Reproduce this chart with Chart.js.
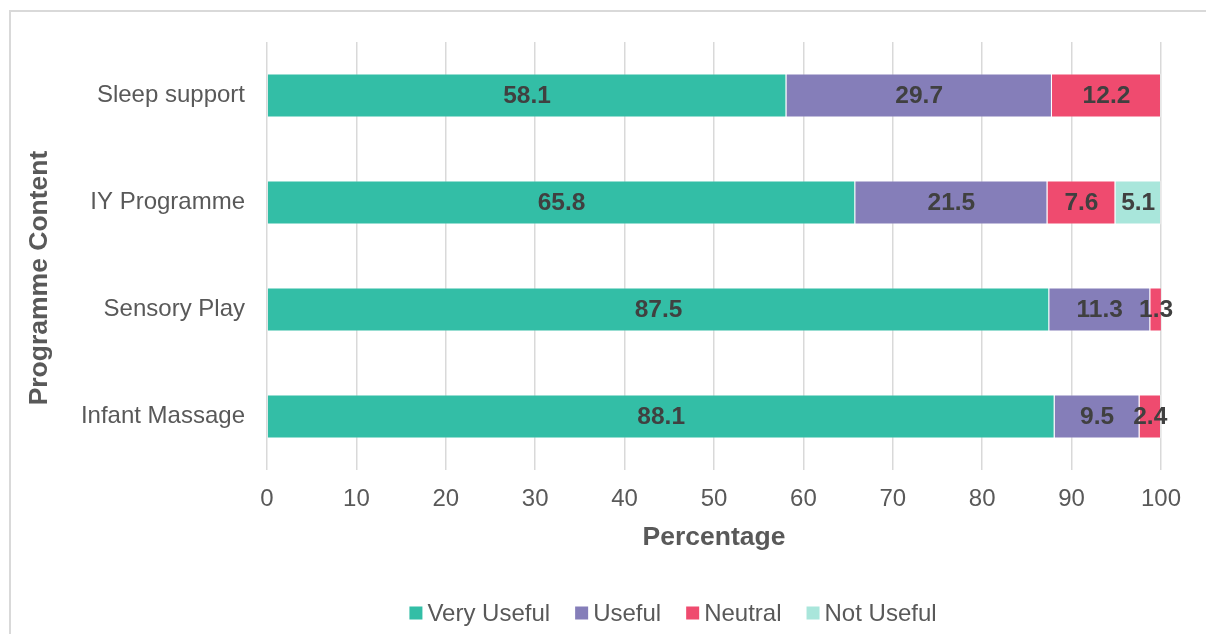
<!DOCTYPE html>
<html>
<head>
<meta charset="utf-8">
<script src="https://cdn.jsdelivr.net/npm/chart.js@4/dist/chart.umd.min.js"></script>
<style>
  html, body { margin: 0; padding: 0; background: #fff; overflow: hidden; font-family: "Liberation Sans", Arial, sans-serif; }
  #frame { position: absolute; left: 9px; top: 10px; width: 1300px; height: 700px; border: 2px solid #d9d9d9; box-sizing: border-box; }
  #wrap { position: absolute; left: 0; top: 0; width: 1206px; height: 634px; }
</style>
</head>
<body>
<div id="frame"></div>
<div id="wrap"><canvas id="c" width="1206" height="634"></canvas></div>
<script>
const categories = ["Sleep support", "IY Programme", "Sensory Play", "Infant Massage"];
const seriesNames = ["Very Useful", "Useful", "Neutral", "Not Useful"];
const veryUseful = [58.1, 65.8, 87.5, 88.1];
const useful = [29.7, 21.5, 11.3, 9.5];
const neutral = [12.2, 7.6, 1.3, 2.4];
const notUseful = [0, 5.1, 0, 0];
const xTicks = [0, 10, 20, 30, 40, 50, 60, 70, 80, 90, 100];
const colors = ["#33BEA6", "#857EB9", "#EF4B6F", "#A9E6DB"];
const yTitle = "Programme Content";
const xTitle = "Percentage";

const FONT = "Liberation Sans";
const FONT_CSS = "\"Liberation Sans\", Arial, sans-serif";
Chart.defaults.font.family = FONT;

const labelPlugin = {
  id: 'barLabels',
  afterDatasetsDraw(chart) {
    const ctx = chart.ctx;
    ctx.save();
    ctx.font = "bold 24.5px " + FONT_CSS;
    ctx.fillStyle = "#404040";
    ctx.textAlign = "center";
    ctx.textBaseline = "middle";
    chart.data.datasets.forEach((ds, di) => {
      const meta = chart.getDatasetMeta(di);
      meta.data.forEach((el, i) => {
        const v = ds.data[i];
        if (!v) return;
        const p = el.getCenterPoint();
        ctx.fillText(v.toFixed(1), p.x, p.y + 1);
      });
    });
    ctx.restore();
  }
};

// Legend and y-axis title drawn from the chart's own dataset labels / colours
const legendPlugin = {
  id: 'customLegend',
  afterDraw(chart) {
    const ctx = chart.ctx;
    ctx.save();
    // y-axis title (centred a little below the plot centre, as in the reference)
    ctx.font = "bold 26.5px " + FONT_CSS;
    ctx.fillStyle = '#595959';
    ctx.textAlign = 'center';
    ctx.textBaseline = 'middle';
    ctx.translate(40, 278);
    ctx.rotate(-Math.PI / 2);
    ctx.fillText(yTitle, 0, 0);
    ctx.setTransform(1, 0, 0, 1, 0, 0);

    ctx.font = "24px " + FONT_CSS;
    ctx.textBaseline = "middle";
    ctx.textAlign = "left";
    const box = 13, gapText = 5, gapItem = 25, cy = 613, centerX = 673;
    const items = chart.data.datasets.map(ds => ({
      text: ds.label, color: ds.backgroundColor, w: ctx.measureText(ds.label).width
    }));
    const total = items.reduce((s, it) => s + box + gapText + it.w, 0) + gapItem * (items.length - 1);
    let x = centerX - total / 2;
    items.forEach(it => {
      ctx.fillStyle = it.color;
      ctx.fillRect(x, cy - box / 2, box, box);
      ctx.fillStyle = '#595959';
      ctx.fillText(it.text, x + box + gapText, cy + 1);
      x += box + gapText + it.w + gapItem;
    });
    ctx.restore();
  }
};

function build() {
  const allSeries = [veryUseful, useful, neutral, notUseful];
  new Chart(document.getElementById('c'), {
    type: 'bar',
    data: {
      labels: categories,
      datasets: allSeries.map((d, i) => ({
        label: seriesNames[i],
        data: d,
        backgroundColor: colors[i],
        borderColor: 'rgba(255,255,255,0.35)',
        borderWidth: 1,
        categoryPercentage: 1,
        barPercentage: 0.41
      }))
    },
    options: {
      indexAxis: 'y',
      responsive: false,
      animation: false,
      devicePixelRatio: 1,
      layout: { padding: { left: 20, top: 42, right: 45, bottom: 40 } },
      plugins: {
        legend: { display: false },
        tooltip: { enabled: false }
      },
      scales: {
        x: {
          stacked: true,
          min: 0, max: 100,
          afterBuildTicks(scale) { scale.ticks = xTicks.map(v => ({ value: v })); },
          afterFit(scale) { scale.height = 124; scale.paddingLeft = 0; scale.paddingRight = 0; },
          grid: { color: '#d9d9d9', lineWidth: 1.5, drawTicks: false },
          border: { display: false },
          ticks: { color: '#595959', font: { family: FONT, size: 24 }, padding: 15, maxRotation: 0 },
          title: { display: true, text: xTitle, color: '#595959',
                   font: { family: FONT, size: 26.5, weight: 'bold' }, padding: { top: 0, bottom: 40 } }
        },
        y: {
          stacked: true,
          afterFit(scale) { scale.width = 247; },
          grid: { display: false, drawTicks: false },
          border: { display: false },
          ticks: { color: '#595959', font: { family: FONT, size: 24 }, padding: 22 },
          title: { display: false }
        }
      }
    },
    plugins: [labelPlugin, legendPlugin]
  });
}

Promise.all([
  document.fonts.load('20px "Liberation Sans"'),
  document.fonts.load('bold 20px "Liberation Sans"')
]).then(build, build);
</script>
</body>
</html>
